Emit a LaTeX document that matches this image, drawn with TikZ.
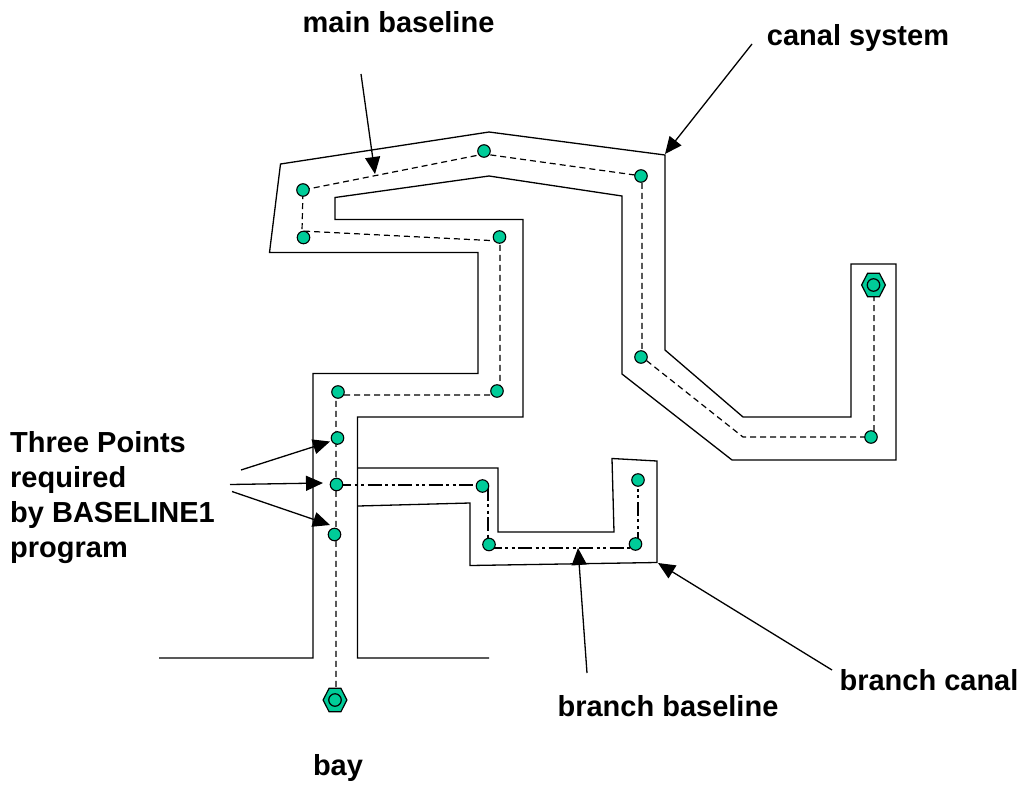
\documentclass[tikz,border=0pt]{standalone}
\usepackage{fontspec}
\setmainfont{Liberation Sans}
\usetikzlibrary{shapes.geometric,arrows.meta}
\definecolor{dotgreen}{RGB}{0,204,153}
\tikzset{
  canal/.style={draw=black,line width=1.3pt,line join=miter},
  mainbase/.style={draw=black,line width=1.2pt,dash pattern=on 6pt off 4pt},
  branchbase/.style={draw=black,line width=1.1pt,dash pattern=on 14pt off 3.5pt on 3pt off 3.5pt on 3pt off 3.5pt},
  pointer/.style={draw=black,line width=1.3pt,-{Triangle[length=17pt,width=15pt]}},
  dot/.style={circle,draw=black,line width=1.1pt,fill=dotgreen,minimum size=12.5pt,inner sep=0pt},
  hexa/.style={regular polygon,regular polygon sides=6,draw=black,line width=1.2pt,fill=dotgreen,minimum size=27pt,inner sep=0pt,xscale=0.88},
  ring/.style={circle,draw=black,line width=1.2pt,minimum size=12.5pt,inner sep=0pt},
  lab/.style={font=\fontsize{29}{35}\selectfont\bfseries,inner sep=0pt,text=black},
}
\begin{document}
\begin{tikzpicture}[x=1pt,y=-1pt]
\useasboundingbox (0,0) rectangle (1023,785);
% canal outlines
\draw[canal] (159,658) -- (313,658) -- (313,373.5) -- (478,373.5) -- (478,252.5) -- (269.5,252.5) -- (280.5,164) -- (489,132) -- (665,155) -- (665,350) -- (743,417) -- (851,417) -- (851,264) -- (896,264) -- (896,460) -- (732,460) -- (622,374) -- (622,196) -- (489,176) -- (335,197.5) -- (335,219.5) -- (523,219.5) -- (523,417) -- (357.5,417) -- (357.5,658) -- (489,658);
\draw[canal] (358,468) -- (498,468) -- (498,532) -- (614,532) -- (612,458.5) -- (657,461) -- (657,562.5) -- (470,565.5) -- (470,503) -- (358,506);
% baseline points
\coordinate (m1) at (874,285);
\coordinate (m2) at (874,437);
\coordinate (m3) at (743,437);
\coordinate (m4) at (642,357);
\coordinate (m5) at (642,176);
\coordinate (m6) at (484,154);
\coordinate (m7) at (303,190);
\coordinate (m8) at (302,231);
\coordinate (m9) at (500,241);
\coordinate (m10) at (500,395);
\coordinate (m11) at (336,395);
\coordinate (m12) at (336,700);
\coordinate (b1) at (337,485);
\coordinate (b2) at (488,485);
\coordinate (b3) at (488,548);
\coordinate (b4) at (638,548);
\coordinate (b5) at (638,480);
\draw[mainbase] (m1) -- (m2) -- (m3) -- (m4) -- (m5) -- (m6) -- (m7) -- (m8) -- (m9) -- (m10) -- (m11) -- (m12);
\draw[branchbase] (b1) -- (b2) -- (b3) -- (b4) -- (b5);
% dots
\node[dot] (d1) at (871,437) {};
\node[dot] (d2) at (641,357) {};
\node[dot] (d3) at (641,176) {};
\node[dot] (d4) at (484,151) {};
\node[dot] (d5) at (303,190) {};
\node[dot] (d6) at (303.5,237.5) {};
\node[dot] (d7) at (499.5,237) {};
\node[dot] (d8) at (497,391) {};
\node[dot] (d9) at (338,392) {};
\node[dot] (d10) at (337.5,438) {};
\node[dot] (d11) at (336.5,484.5) {};
\node[dot] (d12) at (334.5,534.5) {};
\node[dot] (d13) at (482.5,486) {};
\node[dot] (d14) at (489,544.5) {};
\node[dot] (d15) at (635.5,544) {};
\node[dot] (d16) at (638,480) {};
\node[hexa] (h1) at (873.5,285) {};
\node[ring] (r1) at (873.5,285) {};
\node[hexa] (h2) at (335,700) {};
\node[ring] (r2) at (335,700) {};
% labels
\node[lab] (tmain) at (398.5,22) {main baseline};
\node[lab] (tcanal) at (858,38) {canal system};
\node[lab,align=left,anchor=west] (tthree) at (10,497.5) {Three Points\\required\\by BASELINE1\\program};
\node[lab] (tbranchc) at (929,680) {branch canal};
\node[lab] (tbranchb) at (668,706) {branch baseline};
\node[lab] (tbay) at (338,768) {bay};
% pointers
\coordinate (a1s) at (361,74);
\coordinate (a1e) at (375,174);
\coordinate (a2s) at (752,44);
\coordinate (a2e) at (665,154);
\coordinate (a3s) at (832,670);
\coordinate (a3e) at (658,563);
\coordinate (a4s) at (587,673);
\coordinate (a4e) at (578,548);
\coordinate (a5s) at (241,470);
\coordinate (a5e) at (330,441.5);
\coordinate (a6s) at (230,484.5);
\coordinate (a6e) at (323,483);
\coordinate (a7s) at (232,491.5);
\coordinate (a7e) at (330,525);
\draw[pointer] (a1s) -- (a1e);
\draw[pointer] (a2s) -- (a2e);
\draw[pointer] (a3s) -- (a3e);
\draw[pointer] (a4s) -- (a4e);
\draw[pointer] (a5s) -- (a5e);
\draw[pointer] (a6s) -- (a6e);
\draw[pointer] (a7s) -- (a7e);
\end{tikzpicture}
\end{document}
